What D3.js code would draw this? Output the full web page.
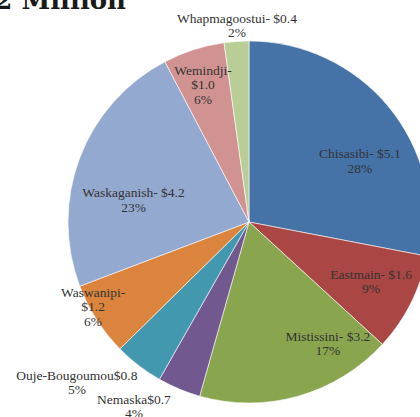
<!DOCTYPE html>
<html>
<head>
<meta charset="utf-8">
<script src="https://cdn.jsdelivr.net/npm/d3@7"></script>
<style>
  html, body { margin: 0; padding: 0; background: #fff; overflow: hidden; }
</style>
</head>
<body>
<div id="chart"></div>
<script>
// Cree communities - funding split (pie)
const communities = ["Chisasibi", "Eastmain", "Mistissini", "Nemaska", "Ouje-Bougoumou",
    "Waswanipi", "Waskaganish", "Wemindji", "Whapmagoostui"];
const amounts = [5.1, 1.6, 3.2, 0.7, 0.8, 1.2, 4.2, 1.0, 0.4];
const percents = [28, 9, 17, 4, 5, 6, 23, 6, 2];
const colors = ["#4572a7", "#aa4643", "#89a54e", "#71588f", "#4198af",
    "#db843d", "#93a9cf", "#d19392", "#b9cd96"];
const title_text = "$18.2 Million";

// label placement: angle (deg, clockwise from top) and radius fraction
const two_line = d => [`${d.name}- $${d.amount.toFixed(1)}`, `${d.pct}%`];
const joined = d => [`${d.name}$${d.amount.toFixed(1)}`, `${d.pct}%`];
const three_line = d => [`${d.name}-`, `$${d.amount.toFixed(1)}`, `${d.pct}%`];

const label_layout = {
    "Chisasibi": { a: 61, r: 0.70, lines: two_line },
    "Eastmain": { a: 116, r: 0.75, lines: two_line },
    "Mistissini": { a: 147, r: 0.80, lines: two_line },
    "Nemaska": { a: 212, r: 1.20, lines: joined },
    "Ouje-Bougoumou": { a: 227, r: 1.30, lines: joined },
    "Waswanipi": { a: 241.5, r: 0.98, lines: three_line },
    "Waskaganish": { a: 281, r: 0.65, lines: two_line },
    "Wemindji": { a: 341.5, r: 0.80, lines: three_line },
    "Whapmagoostui": { a: 356.5, r: 1.09, lines: two_line }
};

const width = 420;
const height = 417;
const cx = 249, cy = 222, radius = 181;
const line_h = 14.5;

const slices = communities.map((name, i) => ({
    name: name,
    amount: amounts[i],
    pct: percents[i],
    color: colors[i]
}));

const svg = d3.select("#chart").append("svg")
    .attr("width", width)
    .attr("height", height)
    .style("display", "block");

const pie = d3.pie().sort(null).value(d => d.amount);
const arc = d3.arc().innerRadius(0).outerRadius(radius);

const g = svg.append("g").attr("transform", `translate(${cx},${cy})`);

g.selectAll("path.slice")
    .data(pie(slices))
    .join("path")
    .attr("class", "slice")
    .attr("d", arc)
    .attr("fill", d => d.data.color)
    .attr("stroke", "#fff")
    .attr("stroke-width", 0.6);

const labels = g.selectAll("g.label")
    .data(pie(slices))
    .join("g")
    .attr("class", "label")
    .attr("transform", d => {
        const lay = label_layout[d.data.name];
        const ang = lay.a * Math.PI / 180;
        const x = Math.sin(ang) * radius * lay.r;
        const y = -Math.cos(ang) * radius * lay.r;
        return `translate(${x},${y})`;
    });

labels.each(function(d) {
    const lines = label_layout[d.data.name].lines(d.data);
    const n = lines.length;
    d3.select(this).selectAll("text")
        .data(lines)
        .join("text")
        .attr("x", 0)
        .attr("y", (t, i) => (i - (n - 1) / 2) * line_h)
        .attr("dy", "0.35em")
        .attr("text-anchor", "middle")
        .style("font-family", "'Liberation Serif', 'DejaVu Serif', serif")
        .style("font-size", "13.5px")
        .style("fill", "#333")
        .text(t => t);
});

svg.append("text")
    .attr("x", 126)
    .attr("y", 9)
    .attr("text-anchor", "end")
    .style("font-family", "'DejaVu Serif', serif")
    .style("font-size", "26px")
    .style("font-weight", "bold")
    .style("fill", "#1a1a1a")
    .text(title_text);
</script>
</body>
</html>
